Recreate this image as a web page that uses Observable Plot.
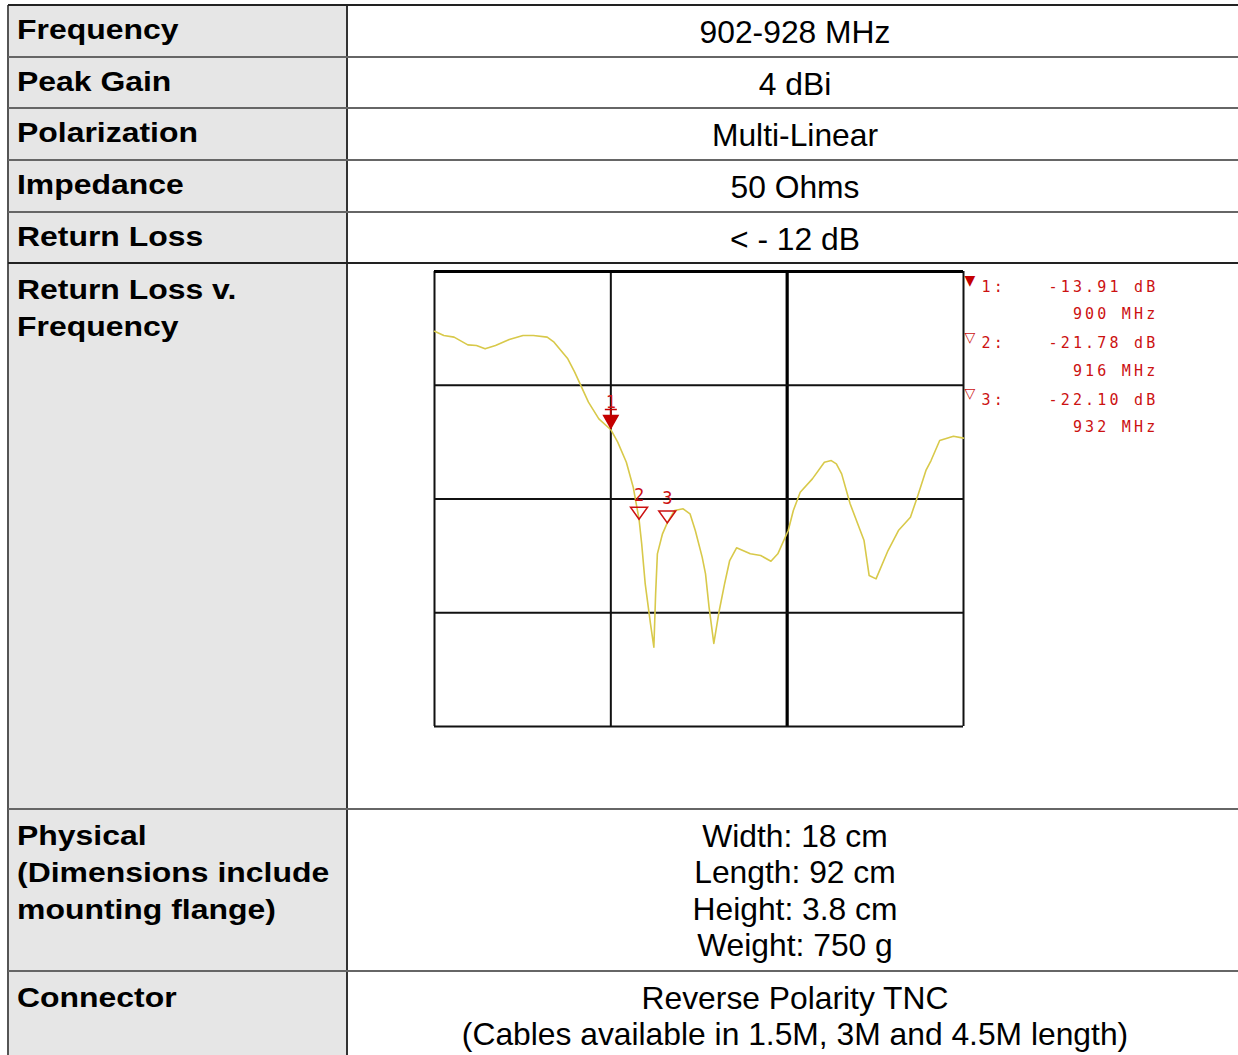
<!DOCTYPE html>
<html>
<head>
<meta charset="utf-8">
<script src="https://cdn.jsdelivr.net/npm/d3@7"></script>
<script src="https://cdn.jsdelivr.net/npm/@observablehq/plot@0.6"></script>
<style>
  html, body { margin: 0; padding: 0; background: #fff; }
  body { width: 1238px; height: 1055px; overflow: hidden; position: relative; font-family: "Liberation Sans", Arial, sans-serif; }
  .abs { position: absolute; }
  .hline { position: absolute; left: 8px; width: 1240px; height: 2px; background: #555; }
  .lbl { position: absolute; left: 17px; font-weight: bold; font-size: 28px; line-height: 36.7px; white-space: pre; color: #000; transform: scaleX(1.14); transform-origin: 0 0; }
  .val { position: absolute; left: 347px; width: 896px; text-align: center; font-size: 31.8px; line-height: 36.5px; white-space: pre; color: #000; }
  #chart { position: absolute; left: 420px; top: 262px; }
  #chart text { letter-spacing: 3.2px; }
</style>
</head>
<body>
<div id="table"></div>
<div id="chart"></div>
<script>
// ---- Table content ----
const specLabels = ["Frequency", "Peak Gain", "Polarization", "Impedance", "Return Loss",
  "Return Loss v.\nFrequency", "Physical\n(Dimensions include\nmounting flange)", "Connector"];
const specValues = ["902-928 MHz", "4 dBi", "Multi-Linear", "50 Ohms", "< - 12 dB", "",
  "Width: 18 cm\nLength: 92 cm\nHeight: 3.8 cm\nWeight: 750 g",
  "Reverse Polarity TNC\n(Cables available in 1.5M, 3M and 4.5M length)"];

// ---- Chart data ----
const freqMHz = [800, 805.3, 811.1, 818.9, 823.8, 828.7, 834.6, 842.4, 850.2, 856.1, 863.9, 867.8,
  875.6, 879.5, 883.4, 887.3, 893.2, 900, 903.9, 908.8, 912.7, 916, 917.5, 919.5, 922.5, 924.4,
  925.4, 926.4, 929.3, 932, 936.1, 941, 944.9, 947.9, 951.8, 953.7, 955.7, 958.4, 961.5, 964.5,
  967.4, 971.3, 979.1, 985, 990.8, 994.7, 1000.6, 1003.5, 1007.4, 1014.3, 1021.1, 1025, 1027.9,
  1030.9, 1035.7, 1043.6, 1046.5, 1050.4, 1057.2, 1063.1, 1069.9, 1073.8, 1078.7, 1081.6, 1086.5,
  1094.3, 1100];
const returnLossDb = [-5.25, -5.63, -5.77, -6.45, -6.51, -6.8, -6.51, -5.98, -5.63, -5.63, -5.77, -6.21,
  -7.68, -8.85, -10.17, -11.49, -12.95, -13.91, -15.0, -16.77, -18.96, -21.78, -23.94, -27.46, -30.97, -33.03,
  -28.34, -24.82, -23.06, -22.10, -21.01, -20.86, -21.3, -22.77, -25.11, -26.58, -29.51, -32.7, -29.8, -27.46,
  -25.41, -24.29, -24.82, -24.97, -25.47, -24.82, -22.77, -21.01, -19.4, -18.23, -16.77, -16.62, -16.91,
  -17.79, -20.42, -23.65, -26.73, -27.02, -24.53, -22.77, -21.6, -19.84, -17.49, -16.62, -14.86,
  -14.48, -14.65];

const markerId = [1, 2, 3];
const markerFreq = [900, 916, 932];
const markerDb = [-13.91, -21.78, -22.10];
const markerGlyph = ["\u25BC", "\u25BD", "\u25BD"];

const xGrid = [800, 900, 1000, 1100];
const yGrid = [-40, -30, -20, -10, 0];

// ---- Build table ----
const rowEdges = [5, 57, 108, 160, 212, 263, 809, 971, 1062];
const table = document.getElementById("table");
function add(cls, styles, text) {
  const d = document.createElement("div");
  d.className = cls;
  Object.assign(d.style, styles);
  if (text !== undefined) d.textContent = text;
  table.appendChild(d);
  return d;
}
add("abs", {left: "9px", top: "5px", width: "337px", height: "1057px", background: "#e6e6e6"});
add("abs", {left: "7px", top: "5px", width: "2px", height: "1057px", background: "#555"});
add("abs", {left: "346px", top: "5px", width: "1.5px", height: "1057px", background: "#333"});
specLabels.forEach((lab, i) => {
  const top = rowEdges[i];
  add("hline", {top: (top - 1) + "px", background: (i === 0 || i === 5) ? "#222" : "#666"});
  add("lbl", {top: (top + (i < 5 ? 7.2 : 9.3)) + "px"}, lab);
  if (specValues[i]) add("val", {top: (top + 8.6) + "px"}, specValues[i]);
});

// ---- Chart ----
const trace = freqMHz.map((f, i) => ({f, db: returnLossDb[i]}));
const markers = markerId.map((id, i) => ({id, f: markerFreq[i], db: markerDb[i]}));
const red = "#cc1111";

const activeSymbol = { draw(ctx) {
  ctx.moveTo(0, 0); ctx.lineTo(-8.5, -15); ctx.lineTo(8.5, -15); ctx.closePath();
  ctx.rect(-6, -21, 12, 1.6);
  ctx.rect(-0.8, -21, 1.6, 6);
}};
const openSymbol = { draw(ctx) {
  ctx.moveTo(0, 0); ctx.lineTo(-8.5, -12); ctx.lineTo(8.5, -12); ctx.closePath();
}};

const marks = [
  Plot.ruleX(xGrid.filter(d => d !== 1000), {stroke: "#111", strokeWidth: 2}),
  Plot.ruleX(xGrid.filter(d => d === 1000), {stroke: "#000", strokeWidth: 3.2}),
  Plot.ruleY(yGrid.filter(d => d !== 0), {stroke: "#111", strokeWidth: 2}),
  Plot.ruleY(yGrid.filter(d => d === 0), {stroke: "#000", strokeWidth: 3.2}),
  Plot.line(trace, {x: "f", y: "db", stroke: "#d8c94a", strokeWidth: 1.6, curve: "linear"}),
  Plot.dot(markers.filter(d => d.id === 1), {x: "f", y: "db", symbol: activeSymbol, fill: "#c40000", stroke: "none"}),
  Plot.dot(markers.filter(d => d.id !== 1), {x: "f", y: "db", symbol: openSymbol, fill: "none", stroke: red, strokeWidth: 1.5}),
  Plot.text(markers.filter(d => d.id === 1), {x: "f", y: "db", text: d => String(d.id), dx: 1.6, dy: -22, lineAnchor: "bottom", fill: red, fontSize: 17, fontFamily: "DejaVu Sans Mono"}),
  Plot.text(markers.filter(d => d.id !== 1), {x: "f", y: "db", text: d => String(d.id), dx: 1.6, dy: -18.5, lineAnchor: "bottom", fill: red, fontSize: 17, fontFamily: "DejaVu Sans Mono"})
];

markers.forEach((m, i) => {
  const base = i * 56.7;
  marks.push(
    Plot.text([markerGlyph[i]], {frameAnchor: "top-right", text: d => d, dx: 1, dy: base + 13.5, lineAnchor: "bottom", textAnchor: "start", fill: i === 0 ? "#c40000" : red, fontSize: 14, fontFamily: "DejaVu Sans"}),
    Plot.text([`${m.id}:`], {frameAnchor: "top-right", text: d => d, dx: 18, dy: base + 20, lineAnchor: "bottom", textAnchor: "start", fill: red, fontSize: 15, fontFamily: "DejaVu Sans Mono"}),
    Plot.text([`${m.db.toFixed(2)} dB`], {frameAnchor: "top-right", text: d => d, dx: 195, dy: base + 20, lineAnchor: "bottom", textAnchor: "end", fill: red, fontSize: 15, fontFamily: "DejaVu Sans Mono"}),
    Plot.text([`${m.f} MHz`], {frameAnchor: "top-right", text: d => d, dx: 195, dy: base + 47.3, lineAnchor: "bottom", textAnchor: "end", fill: red, fontSize: 15, fontFamily: "DejaVu Sans Mono"})
  );
});

const svg = Plot.plot({
  width: 755,
  height: 478,
  marginLeft: 14,
  marginRight: 212,
  marginTop: 9,
  marginBottom: 14,
  x: {domain: [800, 1100], axis: null},
  y: {domain: [-40, 0], axis: null},
  style: {background: "transparent", overflow: "visible"},
  marks
});
document.getElementById("chart").appendChild(svg);
</script>
</body>
</html>
